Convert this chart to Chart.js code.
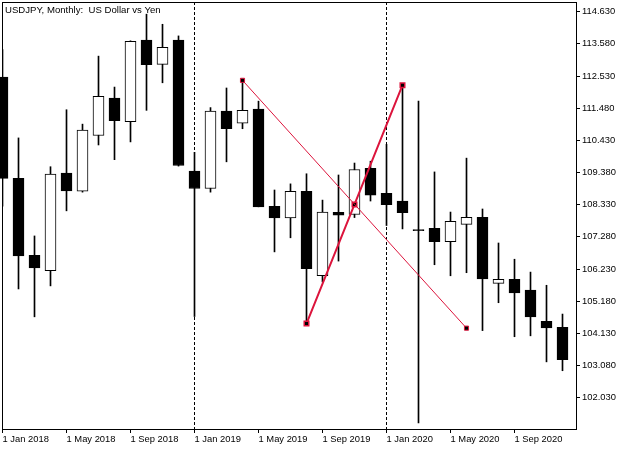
<!DOCTYPE html>
<html>
<head>
<meta charset="utf-8">
<title>USDJPY, Monthly</title>
<script src="https://cdn.jsdelivr.net/npm/chart.js@4.4.0/dist/chart.umd.min.js"></script>
<style>
    html, body { margin: 0; padding: 0; background: #fff; }
    #wrap { width: 629px; height: 450px; }
</style>
</head>
<body>
<div id="wrap"><canvas id="priceChart" width="629" height="450"></canvas></div>
<script>
        // Monthly bars, Jan 2018 .. Dec 2020
        const months = [
            'Jan 2018', 'Feb 2018', 'Mar 2018', 'Apr 2018', 'May 2018', 'Jun 2018',
            'Jul 2018', 'Aug 2018', 'Sep 2018', 'Oct 2018', 'Nov 2018', 'Dec 2018',
            'Jan 2019', 'Feb 2019', 'Mar 2019', 'Apr 2019', 'May 2019', 'Jun 2019',
            'Jul 2019', 'Aug 2019', 'Sep 2019', 'Oct 2019', 'Nov 2019', 'Dec 2019',
            'Jan 2020', 'Feb 2020', 'Mar 2020', 'Apr 2020', 'May 2020', 'Jun 2020',
            'Jul 2020', 'Aug 2020', 'Sep 2020', 'Oct 2020', 'Nov 2020', 'Dec 2020'
        ];
        const openPrices = [
            112.50, 109.19, 106.68, 106.18, 109.36, 108.77, 110.59, 111.81, 111.04, 113.70, 112.91, 113.70,
            109.43, 108.86, 111.39, 110.99, 111.45, 108.28, 107.90, 108.77, 106.01, 108.08, 108.01, 109.52,
            108.70, 108.45, 107.52, 107.56, 107.12, 107.69, 107.92, 105.76, 105.89, 105.54, 104.52, 104.33
        ];
        const highPrices = [
            113.39, 110.51, 107.31, 109.57, 111.43, 110.96, 113.18, 112.17, 113.68, 114.55, 114.22, 113.84,
            110.04, 111.50, 112.14, 112.39, 111.71, 108.81, 109.01, 109.34, 108.48, 109.30, 109.69, 109.75,
            110.30, 112.23, 111.71, 109.40, 108.09, 109.85, 108.19, 107.08, 106.55, 106.13, 105.70, 104.76
        ];
        const lowPrices = [
            108.28, 105.58, 104.67, 105.68, 108.13, 108.74, 110.28, 109.80, 110.38, 111.41, 112.31, 109.59,
            104.68, 108.74, 109.73, 110.81, 108.26, 106.79, 107.25, 104.45, 105.81, 106.49, 107.91, 108.45,
            107.65, 107.54, 101.21, 106.37, 106.01, 106.11, 104.22, 105.13, 104.02, 104.05, 103.20, 102.91
        ];
        const closePrices = [
            109.19, 106.66, 106.27, 109.33, 108.78, 110.77, 111.87, 111.07, 113.66, 112.90, 113.47, 109.61,
            108.86, 111.39, 110.81, 111.41, 108.26, 107.90, 108.77, 106.24, 108.09, 107.99, 109.48, 108.64,
            108.33, 108.07, 107.48, 107.12, 107.79, 107.92, 105.91, 105.89, 105.45, 104.67, 104.31, 103.27
        ];

        // Price axis labels
        const priceTicks = [102.03, 103.08, 104.13, 105.18, 106.23, 107.28, 108.33,
                            109.38, 110.43, 111.48, 112.53, 113.58, 114.63];

        // Drawn objects: thin trend line and thick line with middle point
        const thinLineMonths = ['Apr 2019', 'Jun 2020'];
        const thinLineValues = [112.39, 104.30];
        const thickLineMonths = ['Aug 2019', 'Nov 2019', 'Feb 2020'];
        const thickLineValues = [104.45, 108.34, 112.23];

        const titleText = 'USDJPY, Monthly:  US Dollar vs Yen';
        const lineColor = '#dc143c';

        Chart.defaults.font.family = '"Liberation Sans", Arial, sans-serif';
        Chart.defaults.font.size = 9.4;
        Chart.defaults.color = '#000';

        // frame around the plot area + caption in the corner
        const framePlugin = {
            id: 'frame',
            beforeDatasetsDraw(chart) {
                const a = chart.chartArea;
                const ctx = chart.ctx;
                ctx.save();
                ctx.strokeStyle = '#000';
                ctx.lineWidth = 1;
                ctx.strokeRect(a.left + 0.5, a.top + 0.5, a.right - a.left, a.bottom - a.top);
                ctx.restore();
            },
            afterDatasetsDraw(chart) {
                const ctx = chart.ctx;
                ctx.save();
                ctx.fillStyle = '#000';
                ctx.font = '9.6px "Liberation Sans", Arial, sans-serif';
                ctx.textBaseline = 'alphabetic';
                ctx.fillText(titleText, chart.chartArea.left + 3, 13);
                ctx.restore();
            }
        };

        function toPoints(labels, values) {
            return labels.map((m, i) => ({ x: months.indexOf(m), y: values[i] }));
        }

        function buildDatasets() {
            const wicks = months.map((m, i) => ({ x: i, y: [lowPrices[i], highPrices[i]] }));
            const bodies = months.map((m, i) => ({ x: i, y: [openPrices[i], closePrices[i]] }));
            const bodyFill = months.map((m, i) => closePrices[i] < openPrices[i] ? '#000' : '#fff');

            return [
                {
                    type: 'line',
                    data: toPoints(thinLineMonths, thinLineValues),
                    borderColor: lineColor,
                    borderWidth: 1,
                    pointStyle: 'rect',
                    pointRadius: 2.9,
                    pointBorderWidth: 1,
                    pointBackgroundColor: '#000',
                    pointBorderColor: lineColor,
                    order: 0
                },
                {
                    type: 'line',
                    data: toPoints(thickLineMonths, thickLineValues),
                    borderColor: lineColor,
                    borderWidth: 2,
                    pointStyle: 'rect',
                    pointRadius: 3.2,
                    pointBorderWidth: 1.5,
                    pointBackgroundColor: '#000',
                    pointBorderColor: lineColor,
                    order: 0
                },
                {
                    data: bodies,
                    backgroundColor: bodyFill,
                    borderColor: '#000',
                    borderWidth: 1,
                    borderSkipped: false,
                    barThickness: 11,
                    grouped: false,
                    clip: false,
                    order: 1
                },
                {
                    data: wicks,
                    backgroundColor: '#000',
                    borderWidth: 0,
                    barThickness: 1,
                    grouped: false,
                    order: 2
                }
            ];
        }

        function initializeChart() {
            const ctx = document.getElementById('priceChart').getContext('2d');
            new Chart(ctx, {
                type: 'bar',
                data: { datasets: buildDatasets() },
                plugins: [framePlugin],
                options: {
                    responsive: false,
                    animation: false,
                    devicePixelRatio: 1,
                    layout: { autoPadding: false, padding: { left: 2, top: 2, right: 0, bottom: 0 } },
                    plugins: {
                        legend: { display: false },
                        tooltip: { enabled: false }
                    },
                    scales: {
                        x: {
                            type: 'linear',
                            min: -0.03125,
                            max: 35.84375,
                            offset: false,
                            afterBuildTicks(scale) {
                                scale.ticks = months.map((m, i) => ({ value: i }));
                            },
                            afterFit(scale) {
                                scale.height = 21;
                                scale.paddingLeft = 0;
                                scale.paddingRight = 0;
                            },
                            border: { display: false, dash: [3, 2] },
                            grid: {
                                offset: false,
                                drawOnChartArea: true,
                                tickLength: 4,
                                color: c => (c.index > 0 && months[c.index] && months[c.index].startsWith('Jan'))
                                    ? '#000' : 'rgba(0,0,0,0)',
                                tickColor: c => (c.index % 4 === 0) ? '#000' : 'rgba(0,0,0,0)'
                            },
                            ticks: {
                                autoSkip: false,
                                maxRotation: 0,
                                align: 'start',
                                padding: 1,
                                callback: (v, i) => (i % 4 === 0) ? '1 ' + months[i] : ''
                            }
                        },
                        y: {
                            position: 'right',
                            min: 101.008,
                            max: 114.947,
                            afterBuildTicks(scale) {
                                scale.ticks = priceTicks.map(v => ({ value: v }));
                            },
                            afterFit(scale) {
                                scale.width = 53;
                                scale.paddingTop = 0;
                                scale.paddingBottom = 0;
                            },
                            border: { display: false },
                            grid: {
                                drawOnChartArea: false,
                                tickLength: 4,
                                tickColor: '#000'
                            },
                            ticks: {
                                padding: 2,
                                callback: v => v.toFixed(3)
                            }
                        }
                    }
                }
            });
        }

        document.addEventListener('DOMContentLoaded', initializeChart);
</script>
</body>
</html>
